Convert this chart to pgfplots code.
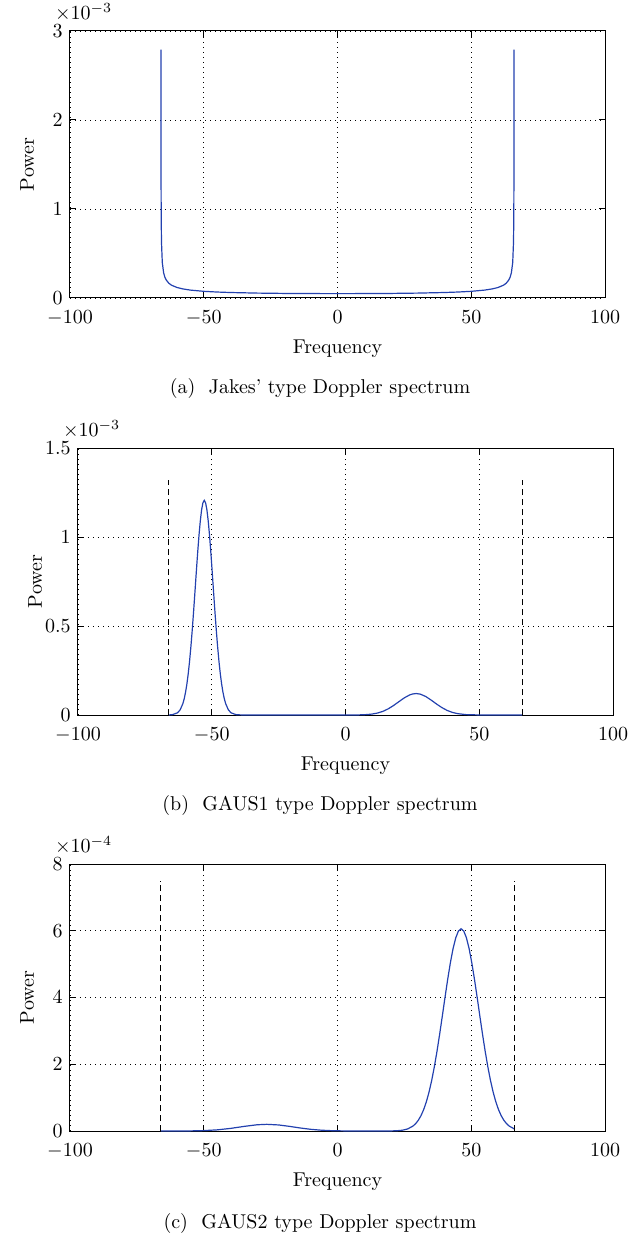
\documentclass[border=0pt]{standalone}
\usepackage{pgfplots}
\pgfplotsset{compat=1.18}
\definecolor{mblue}{RGB}{35,65,175}
\pgfplotstableread{
x y
-66 2.79
-65.98 1.99
-65.95 1.257
-65.9 0.890
-65.8 0.630
-65.5 0.399
-65 0.283
-64.5 0.231
-64 0.201
-63 0.164
-62 0.143
-60 0.118
-58 0.103
-55 0.0886
-50 0.0751
-45 0.0670
-40 0.0616
-30 0.0550
-20 0.0514
-10 0.0496
0 0.0490
10 0.0496
20 0.0514
30 0.0550
40 0.0616
45 0.0670
50 0.0751
55 0.0886
58 0.103
60 0.118
62 0.143
63 0.164
64 0.201
64.5 0.231
65 0.283
65.5 0.399
65.8 0.630
65.9 0.890
65.95 1.257
65.98 1.99
66 2.79
}\jakes
\pgfplotstableread{
x y
-66 0.0004
-64.8 0.0016
-62.8 0.0122
-61.8 0.0293
-60.8 0.0639
-60.3 0.0911
-59.8 0.1271
-59.3 0.1733
-58.8 0.2310
-58.3 0.3007
-57.8 0.3827
-57.3 0.4759
-56.8 0.5785
-56.3 0.6872
-55.8 0.7978
-55.3 0.9052
-54.8 1.0036
-54.3 1.0876
-53.8 1.1519
-53.3 1.1922
-52.8 1.2060
-52.3 1.1922
-51.8 1.1519
-51.3 1.0876
-50.8 1.0036
-50.3 0.9052
-49.8 0.7978
-49.3 0.6872
-48.8 0.5785
-48.3 0.4759
-47.8 0.3827
-47.3 0.3007
-46.8 0.2310
-46.3 0.1733
-45.8 0.1271
-45.3 0.0911
-44.8 0.0639
-43.8 0.0293
-42.8 0.0122
-40.8 0.0016
-38 0.0000
-20 0.0000
0 0.0000
5 0.0006
8 0.0025
10 0.0055
12 0.0112
14 0.0206
16 0.0349
18 0.0537
20 0.0754
22 0.0966
24 0.1129
25 0.1179
26.4 0.1206
28 0.1171
30 0.1039
32 0.0841
34 0.0621
36 0.0419
38 0.0257
40 0.0144
42 0.0074
45 0.0023
50 0.0002
55 0.0000
66 0.0000
}\gausone
\pgfplotstableread{
x y
-66 0.0001
-60 0.0006
-55 0.0031
-50 0.0117
-45 0.0342
-40 0.0778
-35 0.1371
-30 0.1872
-26.4 0.2000
-22 0.1812
-18 0.1395
-14 0.0913
-10 0.0507
-6 0.0239
-2 0.0096
2 0.0033
6 0.0009
10 0.0002
16.2 0.0002
20.2 0.003
22.2 0.008
24.2 0.023
26.2 0.061
28.2 0.147
29.2 0.220
30.2 0.321
31.2 0.458
32.2 0.639
33.2 0.871
34.2 1.160
35.2 1.511
36.2 1.923
37.2 2.392
38.2 2.907
39.2 3.453
40.2 4.009
41.2 4.548
42.2 5.043
43.2 5.465
44.2 5.788
45.2 5.991
46.2 6.060
47.2 5.991
48.2 5.788
49.2 5.465
50.2 5.043
51.2 4.548
52.2 4.009
53.2 3.453
54.2 2.907
55.2 2.392
56.2 1.923
57.2 1.511
58.2 1.160
59.2 0.871
60.2 0.639
61.2 0.458
62.2 0.321
63.2 0.220
64.2 0.147
66 0.067
}\gaustwo
\pgfplotsset{
  dop/.style={
    scale only axis, width=267.5pt, height=133.5pt,
    anchor=north west,
    xmin=-100, xmax=100, xtick={-100,-50,0,50,100},
    tick align=inside, major tick length=3pt,
    grid=major,
    major grid style={black, dash pattern=on 0.5pt off 2pt, line width=0.4pt},
    axis line style={line width=0.5pt},
    every tick/.style={black, line width=0.5pt},
    xlabel={Frequency}, ylabel={Power},
    x label style={at={(axis description cs:0.5,-0.19)}, anchor=center},
    y label style={at={(axis description cs:-0.08,0.5)}, anchor=center},
    xticklabel style={inner sep=1pt, yshift=-5pt},
    yticklabel style={inner sep=1pt, xshift=-2.5pt},
    clip mode=individual,
  },
  curve/.style={mblue, line width=0.6pt},
  vdash/.style={black, line width=0.5pt, dash pattern=on 3pt off 2pt},
}
\begin{document}
\begin{tikzpicture}
\useasboundingbox (0,0) rectangle (317.5pt,-620.5pt);
% (a)
\begin{axis}[dop, at={(35pt,-15.5pt)}, ymin=0, ymax=3, ytick={0,1,2,3}]
\addplot[curve] table[x=x,y=y] {\jakes};
\node[anchor=west] at ([xshift=-11pt,yshift=9.5pt]rel axis cs:0,1) {$\times10^{-3}$};
\end{axis}
\node at (160pt,-194pt) {(a)\ \ Jakes' type Doppler spectrum};
% (b)
\begin{axis}[dop, at={(39pt,-224pt)}, ymin=0, ymax=1.5, ytick={0,0.5,1,1.5}]
\addplot[curve] table[x=x,y=y] {\gausone};
\addplot[vdash] coordinates {(-66,0) (-66,1.32)};
\addplot[vdash] coordinates {(66,0) (66,1.32)};
\node[anchor=west] at ([xshift=-11pt,yshift=9.5pt]rel axis cs:0,1) {$\times10^{-3}$};
\end{axis}
\node at (160pt,-402.5pt) {(b)\ \ GAUS1 type Doppler spectrum};
% (c)
\begin{axis}[dop, at={(35pt,-432pt)}, ymin=0, ymax=8, ytick={0,2,4,6,8}]
\addplot[curve] table[x=x,y=y] {\gaustwo};
\addplot[vdash] coordinates {(-66,0) (-66,7.5)};
\addplot[vdash] coordinates {(66,0) (66,7.5)};
\node[anchor=west] at ([xshift=-11pt,yshift=9.5pt]rel axis cs:0,1) {$\times10^{-4}$};
\end{axis}
\node at (160pt,-611.5pt) {(c)\ \ GAUS2 type Doppler spectrum};
\end{tikzpicture}
\end{document}
